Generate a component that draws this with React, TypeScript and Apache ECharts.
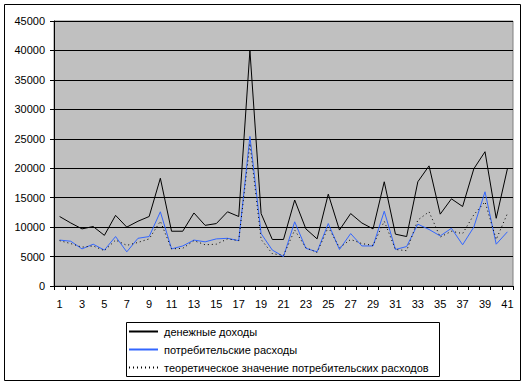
import React, { useEffect, useRef } from "react";
import * as echarts from "echarts";

const categories: string[] = Array.from({ length: 41 }, (_, i) => String(i + 1));

const income: number[] = [
  11800, 10700, 9700, 10100, 8600, 12000, 10000, 11000, 11800, 18300,
  9300, 9300, 12400, 10300, 10600, 12600, 11800, 40000, 12300, 7900,
  7900, 14600, 9700, 8000, 15600, 9500, 12300, 10700, 9700, 17700,
  8800, 8400, 17700, 20400, 12200, 14800, 13500, 19900, 22800, 11500,
  19900,
];

const spending: number[] = [
  7800, 7600, 6300, 7100, 6100, 8400, 5800, 8100, 8400, 12600,
  6300, 6800, 7800, 7500, 8000, 8100, 7700, 25400, 8900, 6100,
  5000, 10900, 6400, 5800, 10600, 6200, 8900, 6800, 6800, 12700,
  6200, 6700, 10500, 9600, 8500, 9800, 7000, 10000, 16000, 7100,
  9200,
];

const theoretical: number[] = [
  7700, 7200, 6600, 6800, 6000, 7800, 6900, 7400, 8000, 11000,
  6300, 6400, 7700, 7000, 7100, 8000, 7700, 24200, 7900, 5500,
  5200, 9500, 6500, 5700, 10000, 6500, 7900, 7200, 6900, 11000,
  6200, 6000, 11200, 12600, 8300, 9300, 8900, 12100, 14300, 7900,
  12300,
];

const seriesNames = [
  "денежные доходы",
  "потребительские расходы",
  "теоретическое значение потребительских расходов",
];

const FONT = "'Liberation Sans', Arial, sans-serif";

export default function App() {
  const ref = useRef<HTMLDivElement>(null);
  useEffect(() => {
    if (!ref.current) return;
    const chart = echarts.init(ref.current, null, { renderer: "svg" });
    chart.setOption({
      animation: false,
      backgroundColor: "#ffffff",
      textStyle: { fontFamily: FONT, color: "#000" },
      grid: { left: 54, top: 21, right: 13, bottom: 99, show: true, backgroundColor: "#c0c0c0", borderColor: "#808080", borderWidth: 1 },
      graphic: [
        { type: "rect", shape: { x: 4.5, y: 4.5, width: 516, height: 376 }, style: { fill: "none", stroke: "#000", lineWidth: 1 }, z: -10 },
        { type: "rect", shape: { x: 126.5, y: 322.5, width: 313, height: 54 }, style: { fill: "#fff", stroke: "#000", lineWidth: 1 }, z: 0 },
      ],
      legend: {
        orient: "vertical",
        left: 128,
        top: 326,
        padding: 0,
        itemWidth: 29,
        itemHeight: 12,
        itemGap: 7,
        z: 10,
        itemStyle: { opacity: 0 },
        textStyle: { fontFamily: FONT, fontSize: 11, color: "#000", padding: [0, 0, 0, 1] },
        data: seriesNames,
      },
      xAxis: {
        type: "category",
        data: categories,
        boundaryGap: true,
        axisLine: { lineStyle: { color: "#000", width: 1 } },
        axisTick: { show: true, interval: 0, length: 4, lineStyle: { color: "#000" } },
        axisLabel: { interval: 1, margin: 12, fontSize: 11, color: "#000", fontFamily: FONT },
        splitLine: { show: false },
      },
      yAxis: {
        type: "value",
        min: 0,
        max: 45000,
        interval: 5000,
        axisLine: { show: true, lineStyle: { color: "#000", width: 1 } },
        axisTick: { show: true, length: 4, lineStyle: { color: "#000" } },
        axisLabel: { margin: 9, fontSize: 11, color: "#000", fontFamily: FONT, formatter: (v: number) => String(v) },
        splitLine: { show: true, lineStyle: { color: "#000", width: 1 } },
      },
      series: [
        {
          name: seriesNames[0],
          type: "line",
          data: income,
          symbol: "none",
          lineStyle: { color: "#000", width: 1 },
          itemStyle: { color: "#000" },
        },
        {
          name: seriesNames[1],
          type: "line",
          data: spending,
          symbol: "none",
          lineStyle: { color: "#3366ff", width: 1 },
          itemStyle: { color: "#3366ff" },
        },
        {
          name: seriesNames[2],
          type: "line",
          data: theoretical,
          symbol: "none",
          lineStyle: { color: "#000", width: 1, type: [1, 3] },
          itemStyle: { color: "#000" },
        },
      ],
    });
    return () => chart.dispose();
  }, []);
  return (
    <div style={{ position: "fixed", left: 0, top: 0, width: 526, height: 385 }}>
      <div ref={ref} style={{ width: 526, height: 385 }} />
    </div>
  );
}
